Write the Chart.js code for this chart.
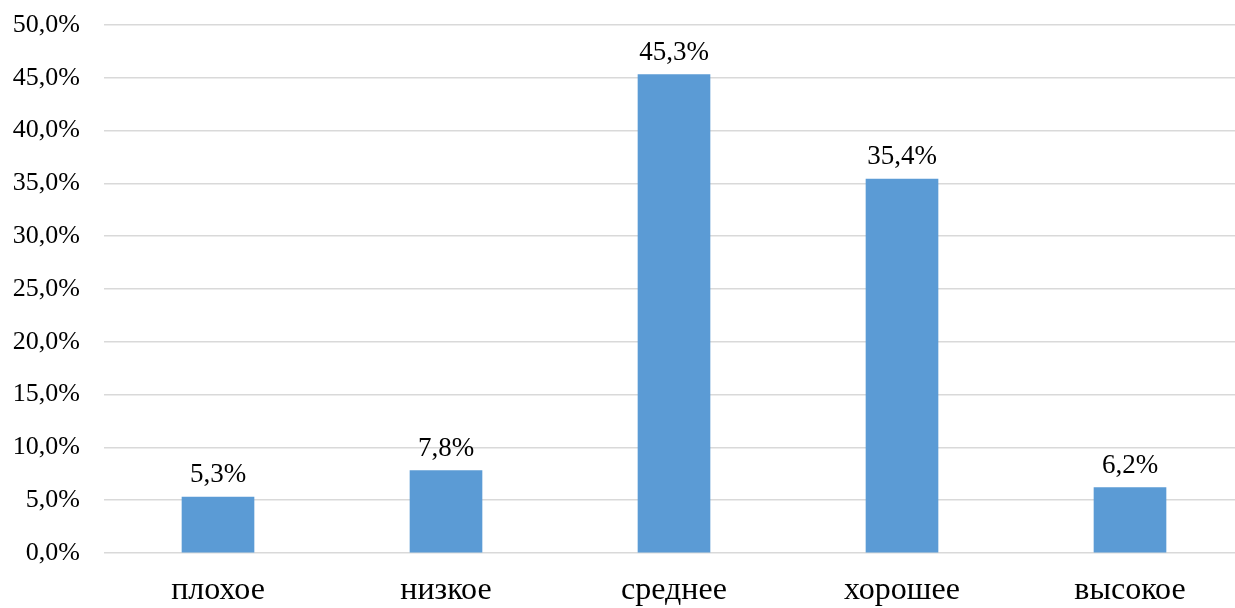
<!DOCTYPE html>
<html>
<head>
<meta charset="utf-8">
<script src="https://cdn.jsdelivr.net/npm/chart.js@4"></script>
<style>
  html, body { margin: 0; padding: 0; background: #fff; overflow: hidden; }
  #wrap { width: 1244px; height: 608px; }
</style>
</head>
<body>
<div id="wrap"><canvas id="levelChart"></canvas></div>
<script>
const categories = ['плохое', 'низкое', 'среднее', 'хорошее', 'высокое'];
const shares = [5.3, 7.8, 45.3, 35.4, 6.2];

const fmt = (v, digits) => v.toFixed(digits).replace('.', ',') + '%';

// Value captions above each bar
const barLabels = {
  id: 'barLabels',
  afterDatasetsDraw(chart) {
    const ctx = chart.ctx;
    const meta = chart.getDatasetMeta(0);
    ctx.save();
    ctx.font = '27px "Liberation Serif", "Times New Roman", serif';
    ctx.fillStyle = '#000';
    ctx.textAlign = 'center';
    ctx.textBaseline = 'alphabetic';
    meta.data.forEach((bar, i) => {
      ctx.fillText(fmt(shares[i], 1), bar.x, bar.y - 15);
    });
    ctx.restore();
  }
};

const ctx = document.getElementById('levelChart').getContext('2d');
const myChart = new Chart(ctx, {
  type: 'bar',
  data: {
    labels: categories,
    datasets: [{
      data: shares,
      backgroundColor: '#5b9bd5',
      barThickness: 72
    }]
  },
  options: {
    responsive: true,
    maintainAspectRatio: false,
    animation: false,
    layout: { padding: { top: 25, right: 0, left: 0, bottom: 0 } },
    plugins: {
      legend: { display: false },
      tooltip: { enabled: false }
    },
    scales: {
      x: {
        grid: { display: false },
        border: { display: false },
        ticks: {
          color: '#000',
          padding: 10,
          font: { family: '"Liberation Serif", "Times New Roman", serif', size: 32 }
        },
        afterFit(scale) { scale.height = 55; }
      },
      y: {
        min: 0,
        max: 50,
        grid: { color: '#d9d9d9', lineWidth: 1.5, drawTicks: false },
        border: { display: false },
        ticks: {
          stepSize: 5,
          color: '#000',
          padding: 24,
          font: { family: '"Liberation Serif", "Times New Roman", serif', size: 26 },
          callback: v => fmt(v, 1)
        },
        afterFit(scale) {
          scale.width = 104;
          scale.paddingTop = 0;
          scale.paddingBottom = 0;
        }
      }
    }
  },
  plugins: [barLabels]
});
</script>
</body>
</html>
